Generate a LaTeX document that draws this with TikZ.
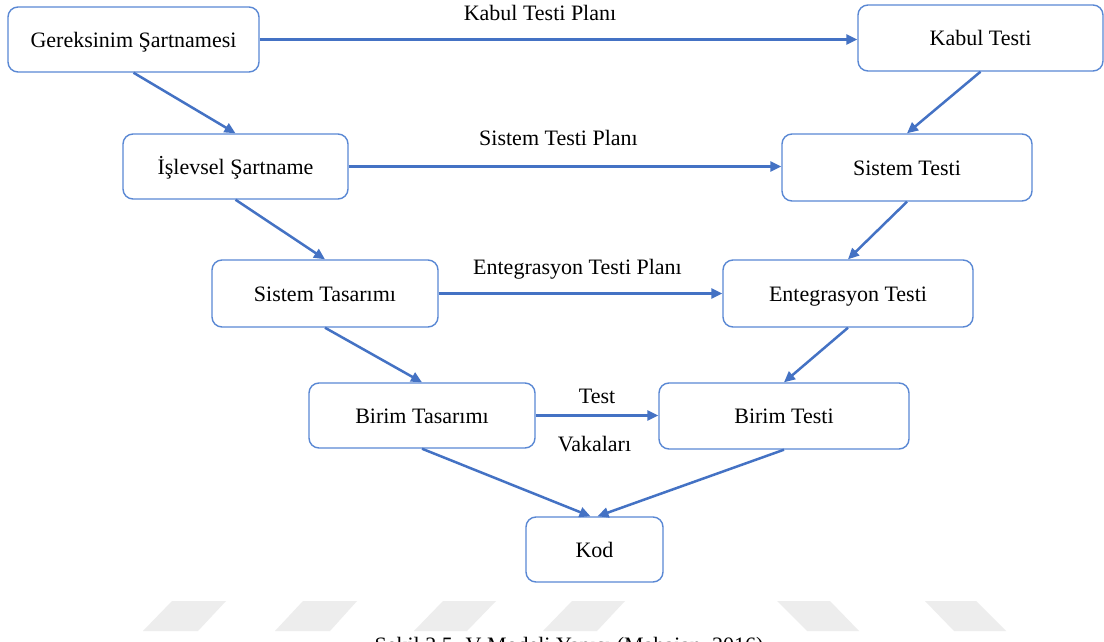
\documentclass[tikz,border=0pt]{standalone}
\usepackage{fontspec}
\setmainfont{Liberation Serif}
\usetikzlibrary{arrows.meta}
\definecolor{linkblue}{HTML}{4472C4}
\definecolor{boxblue}{HTML}{5A88D4}
\definecolor{stripegrey}{HTML}{EDEDED}
\tikzset{
  stage/.style={draw=boxblue, line width=1.4pt, rounded corners=10pt, fill=white,
    inner sep=0pt, text height=15.4pt, text depth=0pt,
    font=\fontsize{22}{26}\selectfont},
  flow/.style={draw=linkblue, line width=2.5pt,
    -{Triangle[length=11pt,width=10pt]}},
  planlabel/.style={anchor=base, inner sep=0pt, font=\fontsize{22}{26}\selectfont},
  stripe/.style={fill=stripegrey, draw=none}
}
\begin{document}
\begin{tikzpicture}[x=1pt, y=-1pt]
\clip (0,0) rectangle (1104,642);
\fill[white] (0,0) rectangle (1104,642);

% watermark band
\fill[stripe] (172,601) -- (226,601) -- (198,631) -- (143,631) -- cycle;
\fill[stripe] (303,601) -- (357,601) -- (330,631) -- (275,631) -- cycle;
\fill[stripe] (443,601) -- (496,601) -- (467,631) -- (414,631) -- cycle;
\fill[stripe] (572,601) -- (625,601) -- (597,631) -- (543,631) -- cycle;
\fill[stripe] (777,601) -- (830,601) -- (859,631) -- (807,631) -- cycle;
\fill[stripe] (925,601) -- (976,601) -- (1006,631) -- (954,631) -- cycle;

% left branch: specification and design
\node[stage, minimum width=251pt, minimum height=65pt] (req) at (133.5,39.5) {Gereksinim Şartnamesi};
\node[stage, minimum width=225pt, minimum height=65pt] (func) at (235.5,166.5) {İşlevsel Şartname};
\node[stage, minimum width=226pt, minimum height=67pt] (sysdes) at (325,293.5) {Sistem Tasarımı};
\node[stage, minimum width=226pt, minimum height=65pt] (unitdes) at (422,415.5) {Birim Tasarımı};

% right branch: testing
\node[stage, minimum width=245pt, minimum height=66pt] (acc) at (980.5,38) {Kabul Testi};
\node[stage, minimum width=250pt, minimum height=67pt] (systest) at (907,167.5) {Sistem Testi};
\node[stage, minimum width=250pt, minimum height=67pt] (inttest) at (848,293.5) {Entegrasyon Testi};
\node[stage, minimum width=250pt, minimum height=66pt] (unittest) at (784,416) {Birim Testi};

% bottom of the V
\node[stage, minimum width=137pt, minimum height=65pt] (code) at (594.5,549.5) {Kod};

% descending and ascending edges
\draw[flow] (req.south) -- (func.north);
\draw[flow] (func.south) -- (sysdes.north);
\draw[flow] (sysdes.south) -- (unitdes.north);
\draw[flow] (unitdes.south) -- ([xshift=-4pt]code.north);
\draw[flow] (unittest.south) -- ([xshift=3pt]code.north);
\draw[flow] (acc.south) -- (systest.north);
\draw[flow] (systest.south) -- (inttest.north);
\draw[flow] (inttest.south) -- (unittest.north);

% test plans across the V
\draw[flow] (req.east) -- (req.east -| acc.west);
\draw[flow] (func.east) -- (func.east -| systest.west);
\draw[flow] (sysdes.east) -- (sysdes.east -| inttest.west);
\draw[flow] (unitdes.east) -- (unitdes.east -| unittest.west);

\node[planlabel] (lplan1) at (540,21) {Kabul Testi Planı};
\node[planlabel] (lplan2) at (558.5,146) {Sistem Testi Planı};
\node[planlabel] (lplan3) at (577.5,274) {Entegrasyon Testi Planı};
\node[planlabel] (lplan4a) at (597,403) {Test};
\node[planlabel] (lplan4b) at (594.5,451) {Vakaları};

% caption, running off the lower edge
\node[planlabel] (caption) at (569,652) {Şekil 2.5. V Modeli Yapısı (Mahajan, 2016)};
\end{tikzpicture}
\end{document}
